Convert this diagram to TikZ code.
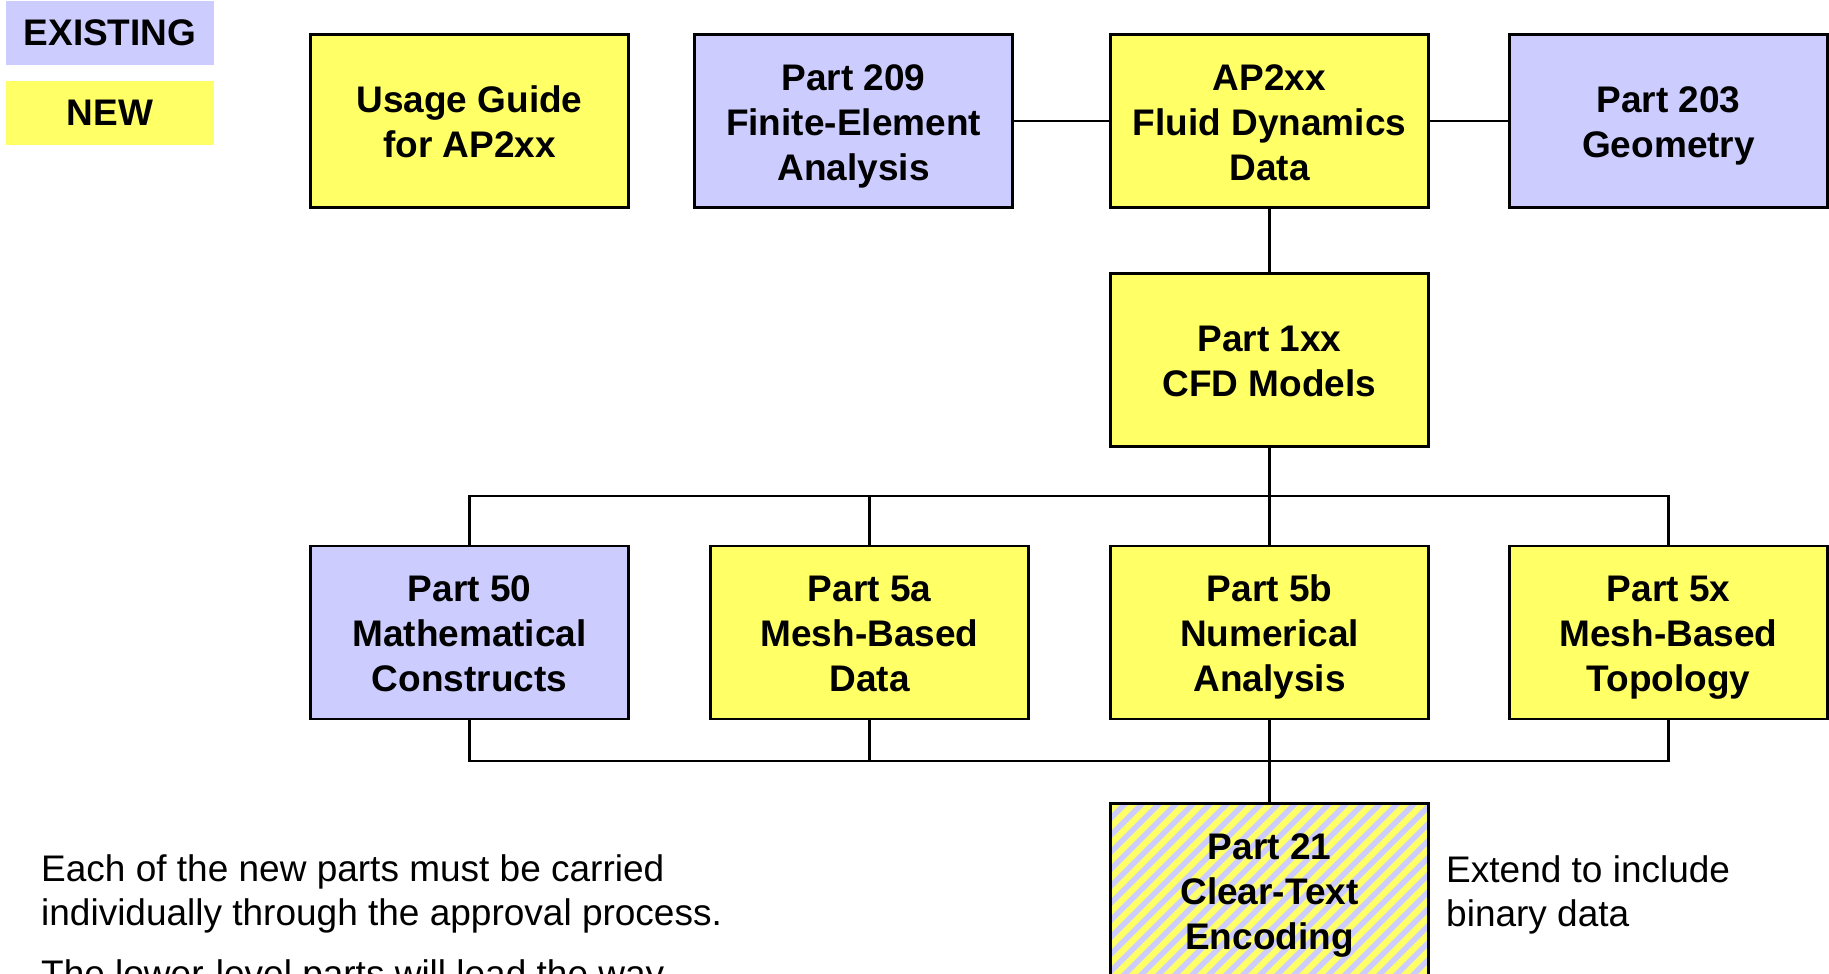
\documentclass[tikz,border=0pt]{standalone}
\usepackage{fontspec}
\setmainfont{Liberation Sans}
\definecolor{lav}{RGB}{204,204,255}
\definecolor{yel}{RGB}{255,255,102}
\newcommand\topstrut{\rule{0pt}{36pt}}
\newcommand\botstrut{\rule[-8pt]{0pt}{8pt}}
\tikzset{
  box/.style={draw=black, line width=2.8pt, minimum width=318pt, minimum height=173pt,
    inner sep=0pt, align=center, font=\fontsize{37}{45}\selectfont\bfseries},
  oldbox/.style={box, fill=lav},
  newbox/.style={box, fill=yel},
  hatchbox/.style={box, fill=yel, path picture={
      \foreach \i in {-260,-243,...,360}
        {\draw[lav, line width=5.5pt] ([xshift=\i pt]path picture bounding box.south west) -- ++(260,-260);}
      }},
  legend/.style={minimum width=208pt, minimum height=64pt, inner sep=0pt,
    font=\fontsize{37}{45}\selectfont\bfseries},
  link/.style={line width=2.8pt, black},
  note/.style={inner sep=0pt, align=left, font=\fontsize{37}{44}\selectfont}
}
\begin{document}
\begin{tikzpicture}[x=1pt,y=-1pt]
\useasboundingbox (0,0) rectangle (1829,974);
\clip (0,0) rectangle (1829,974);
\fill[white] (0,0) rectangle (1829,974);
% legend
\node[legend, fill=lav] (ex) at (110,33) {EXISTING};
\node[legend, fill=yel] (nw) at (110,113) {NEW};
% row 1
\node[newbox] (ug) at (469.5,121) {\topstrut Usage Guide\\for AP2xx\botstrut};
\node[oldbox] (p209) at (853.5,121) {\topstrut Part 209\\Finite-Element\\Analysis\botstrut};
\node[newbox] (ap) at (1269.5,121) {\topstrut AP2xx\\Fluid Dynamics\\Data\botstrut};
\node[oldbox] (p203) at (1668.5,121) {\topstrut Part 203\\Geometry\botstrut};
% row 2
\node[newbox] (p1xx) at (1269.5,360) {\topstrut Part 1xx\\CFD Models\botstrut};
% row 3
\node[oldbox] (p50) at (469.5,632.5) {\topstrut Part 50\\Mathematical\\Constructs\botstrut};
\node[newbox] (p5a) at (869.5,632.5) {\topstrut Part 5a\\Mesh-Based\\Data\botstrut};
\node[newbox] (p5b) at (1269.5,632.5) {\topstrut Part 5b\\Numerical\\Analysis\botstrut};
\node[newbox] (p5x) at (1668.5,632.5) {\topstrut Part 5x\\Mesh-Based\\Topology\botstrut};
% row 4
\node[hatchbox] (p21) at (1269.5,890) {\topstrut Part 21\\Clear-Text\\Encoding\botstrut};
% connectors
\draw[link] (p209.east) -- (ap.west);
\draw[link] (ap.east) -- (p203.west);
\draw[link] (ap.south) -- (p1xx.north);
\coordinate (bus1) at (1269.5,496);
\coordinate (bus2) at (1269.5,761);
\draw[link] (p1xx.south) -- (bus1);
\draw[link] (p50.north) |- (bus1) -| (p5x.north);
\draw[link] (p5a.north) -- (p5a.north |- bus1);
\draw[link] (bus1) -- (p5b.north);
\draw[link] (p50.south) |- (bus2) -| (p5x.south);
\draw[link] (p5a.south) -- (p5a.south |- bus2);
\draw[link] (p5b.south) -- (p21.north);
% notes
\node[note, anchor=base west] (n1) at (41,925) {Each of the new parts must be carried\\individually through the approval process.};
\node[note, anchor=base west] (n2) at (41,986) {The lower-level parts will lead the way.};
\node[note, anchor=base west] (n3) at (1446,926) {Extend to include\\binary data};
\end{tikzpicture}
\end{document}
